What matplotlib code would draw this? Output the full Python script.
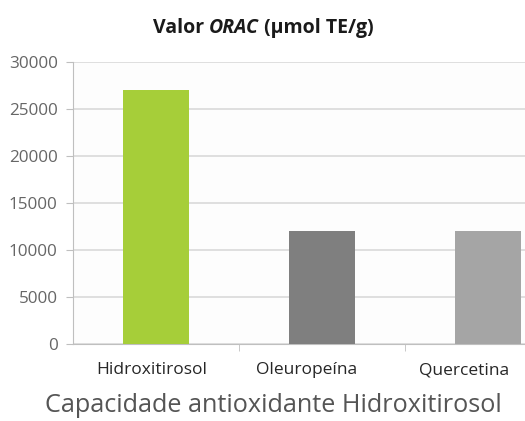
import matplotlib.pyplot as plt
from matplotlib.transforms import ScaledTranslation

categories = ["Hidroxitirosol", "Oleuropeína", "Quercetina"]
orac_values = [27000, 12000, 12000]
bar_colors = ["#a6ce39", "#7f7f7f", "#a5a5a5"]
y_ticks = [0, 5000, 10000, 15000, 20000, 25000, 30000]

plt.rcParams["font.family"] = ["Open Sans", "DejaVu Sans"]

fig = plt.figure(figsize=(5.25, 4.21), dpi=100)
fig.patch.set_facecolor("white")

W, H = 525, 421
left, right = 73, 525
top, bottom = 62, 344
ax = fig.add_axes([left / W, 1 - bottom / H, (right - left) / W, (bottom - top) / H])
ax.set_facecolor("#fdfdfd")

slot = 166
x = list(range(len(categories)))
ax.bar(x, orac_values, width=0.40, color=bar_colors, zorder=3)

ax.set_ylim(0, 30000)
ax.set_xlim(-0.5, -0.5 + (right - left) / slot)
ax.set_yticks(y_ticks)
ax.set_yticklabels([str(v) for v in y_ticks], fontsize=12.3, color="#666666")
ax.set_xticks(x)
ax.set_xticklabels(categories, fontsize=12.5, color="#262626")
ax.set_xticks([0.5, 1.5], minor=True)
ax.tick_params(axis="x", which="major", length=0, pad=13)
ax.tick_params(axis="x", which="minor", length=5, color="#bfbfbf")
ax.tick_params(axis="y", length=5, color="#bfbfbf", pad=6)

# labels in the original sit a bit left of the bar centres
shifts = [-4, -15, -24]
for lab, dx in zip(ax.get_xticklabels(), shifts):
    lab.set_transform(lab.get_transform() + ScaledTranslation(dx / 100, 0, fig.dpi_scale_trans))

ax.grid(axis="y", color="#d9d9d9", linewidth=1.2, zorder=0)
for side in ["top", "right"]:
    ax.spines[side].set_visible(False)
ax.spines["left"].set_color("#bfbfbf")
ax.spines["bottom"].set_color("#bfbfbf")

# title with italic ORAC
t1 = fig.text(153 / W, 1 - 28 / H, "Valor ", fontsize=14, fontweight="bold",
              color="#1a1a1a", va="center", ha="left")
t2 = ax.annotate("ORAC", xy=(1, 0), xycoords=t1, va="bottom", ha="left",
                 fontsize=14, fontweight="bold", fontstyle="italic", color="#1a1a1a")
t3 = ax.annotate(" (µmol TE/g)", xy=(1, 0), xycoords=t2, va="bottom", ha="left",
                 fontsize=14, fontweight="bold", color="#1a1a1a")

fig.text(273 / W, 1 - 405 / H, "Capacidade antioxidante Hidroxitirosol",
         fontsize=18.2, color="#555555", ha="center", va="center")

fig.savefig("out.png", dpi=100)
